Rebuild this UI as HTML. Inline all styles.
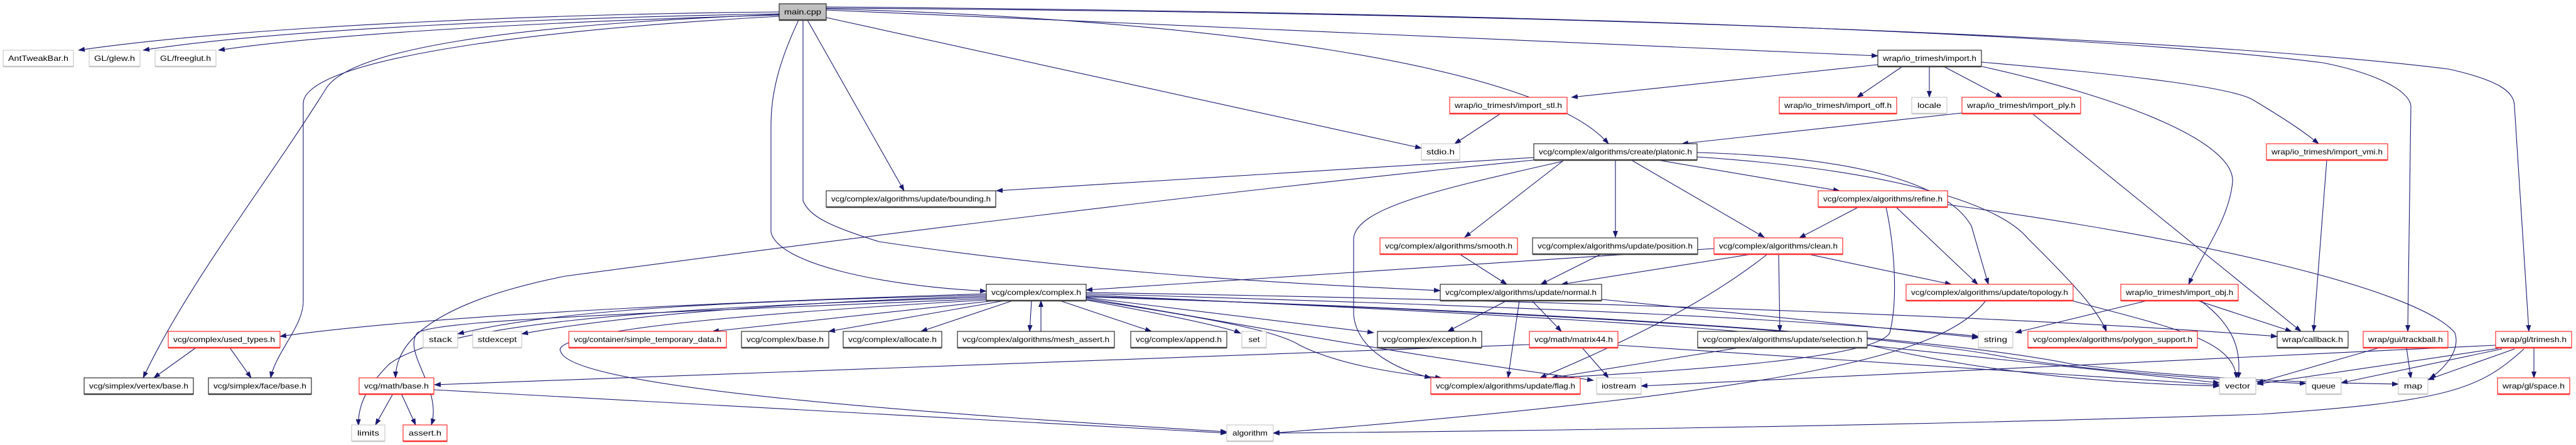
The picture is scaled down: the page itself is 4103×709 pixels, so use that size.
<!DOCTYPE html>
<html><head><meta charset="utf-8"><style>
html,body{margin:0;padding:0;background:#fff;}
svg{display:block;}
text{font-family:"Liberation Sans",Arial,sans-serif;font-size:12px;fill:#000;}
.e{fill:none;stroke:#191970;stroke-width:1.1;marker-end:url(#ah);}
.b{fill:#fff;stroke:#000;stroke-width:1;}
.r{fill:#fff;stroke:#ff0000;stroke-width:1;}
.g{fill:#fff;stroke:#bfbfbf;stroke-width:1;}
.m{fill:#bfbfbf;stroke:#000;stroke-width:1;}
.sb{stroke:#404040;stroke-width:2.5;}
.sr{stroke:#ff3030;stroke-width:2.5;}
.sg{stroke:#c8c8c8;stroke-width:2.5;}
</style></head><body>
<svg width="4103" height="709" viewBox="0 0 4103 709" xmlns="http://www.w3.org/2000/svg">
<defs><marker id="ah" markerWidth="11" markerHeight="8" refX="10" refY="4" orient="auto" markerUnits="userSpaceOnUse"><path d="M0,0 L11,4 L0,8 z" fill="#191970"/></marker></defs>
<rect width="4103" height="709" fill="#fff"/>
<g>
<!-- main.cpp edges -->
<path class="e" d="M1241,19 C900,22 400,40 125,80"/>
<path class="e" d="M1241,22 C900,28 450,45 228,80"/>
<path class="e" d="M1241,24 C950,32 550,50 348,80"/>
<path class="e" d="M1241,23 C800,40 560,80 520,140 C420,300 300,450 228,602"/>
<path class="e" d="M1241,26 C800,50 483,100 483,165 L483,480 C483,520 440,560 431,602"/>
<path class="e" d="M1272,32 C1240,100 1228,150 1228,200 L1228,370 C1240,420 1400,455 1571,464"/>
<path class="e" d="M1279,32 L1279,320 C1290,345 1320,360 1400,385 C1700,430 2000,450 2294,463"/>
<path class="e" d="M1286,32 L1440,304"/>
<path class="e" d="M1316,28 L2264,236"/>
<path class="e" d="M1316,14 C1900,30 2450,100 2562,229"/>
<path class="e" d="M1316,16 L2991,89"/>
<path class="e" d="M1316,11 C2400,20 3300,50 3700,100 C3800,120 3840,150 3840,170 L3835,528"/>
<path class="e" d="M1316,13 C2500,20 3500,60 3900,110 C3990,130 4005,150 4005,170 L4028,528"/>
<!-- import.h -->
<path class="e" d="M2991,103 L2503,155"/>
<path class="e" d="M3030,106 L2958,155"/>
<path class="e" d="M3073,106 L3073,155"/>
<path class="e" d="M3096,106 L3189,155"/>
<path class="e" d="M3156,99 C3400,120 3560,140 3590,160 C3640,190 3670,210 3693,229"/>
<path class="e" d="M3157,106 C3400,160 3560,230 3556,290 C3550,350 3510,400 3486,453"/>
<path class="e" d="M2390,181 L2317,229"/>
<path class="e" d="M3125,180 L2679,229"/>
<path class="e" d="M3237,181 L3665,528"/>
<path class="e" d="M3706,255 L3685,528"/>
<!-- platonic -->
<path class="e" d="M2443,251 L1587,304"/>
<path class="e" d="M2443,255 C1800,320 1200,400 900,440 C700,480 630,540 630,602"/>
<path class="e" d="M2490,256 L2333,378"/>
<path class="e" d="M2573,256 L2573,378"/>
<path class="e" d="M2600,256 L2810,378"/>
<path class="e" d="M2640,255 L2930,304"/>
<path class="e" d="M2703,243 C2950,250 3100,290 3140,360 L3167,453"/>
<path class="e" d="M2703,250 C3000,270 3180,320 3230,380 C3290,440 3340,490 3355,528"/>
<path class="e" d="M2489,257 C2300,300 2160,330 2156,380 L2156,500 C2160,560 2230,590 2279,602"/>
<!-- refine -->
<path class="e" d="M2960,330 L2866,379"/>
<path class="e" d="M3020,330 L3150,453"/>
<path class="e" d="M3004,330 C3015,380 3025,470 3010,530 C2990,570 2700,590 2471,602"/>
<path class="e" d="M3102,326 C3500,380 3850,460 3910,530 C3920,560 3890,590 3870,603"/>
<!-- clean -->
<path class="e" d="M2730,396 L1730,462"/>
<path class="e" d="M2790,405 L2487,453"/>
<path class="e" d="M2880,405 L3108,453"/>
<path class="e" d="M2833,405 L2835,528"/>
<path class="e" d="M2815,405 C2720,480 2600,540 2453,602"/>
<path class="e" d="M2325,405 L2400,453"/>
<path class="e" d="M2550,405 L2454,453"/>
<!-- complex.h -->
<path class="e" d="M1571,468 C1200,480 700,500 446,536"/>
<path class="e" d="M1571,470 C1200,480 900,490 729,532"/>
<path class="e" d="M1571,472 C1300,480 1000,500 831,532"/>
<path class="e" d="M1585,479 L1135,528"/>
<path class="e" d="M1600,479 L1320,528"/>
<path class="e" d="M1613,479 L1467,528"/>
<path class="e" d="M1643,479 L1640,528"/>
<path class="e" d="M1658,528 L1658,479"/>
<path class="e" d="M1688,479 L1834,528"/>
<path class="e" d="M1730,478 C1850,500 1950,520 1976,531"/>
<path class="e" d="M1730,474 L2188,530"/>
<path class="e" d="M1730,477 C1950,510 2040,530 2070,550 C2130,580 2220,595 2296,602"/>
<path class="e" d="M1730,475 C2000,520 2200,560 2538,606"/>
<path class="e" d="M1730,468 C2500,490 2900,510 3151,536"/>
<path class="e" d="M1730,466 C2600,480 3300,510 3627,536"/>
<path class="e" d="M1730,470 C2400,500 2900,530 3000,555 C3200,600 3400,612 3535,615"/>
<path class="e" d="M1730,472 C2500,500 3000,530 3200,570 C3400,600 3600,608 3673,611"/>
<path class="e" d="M1730,473 C2600,500 3100,540 3300,580 C3500,605 3700,610 3820,612"/>
<path class="e" d="M1571,474 C1000,490 700,520 620,580 C580,620 570,650 571,678"/>
<path class="e" d="M1571,476 C1000,500 700,510 665,530 C640,560 705,620 687,677"/>
<path class="e" d="M1571,478 C1000,510 880,540 893,560 C910,620 1500,660 1954,688"/>
<!-- normal -->
<path class="e" d="M2400,479 L2306,528"/>
<path class="e" d="M2420,479 L2402,602"/>
<path class="e" d="M2440,479 L2487,528"/>
<path class="e" d="M2551,477 L3151,538"/>
<!-- matrix44 -->
<path class="e" d="M2436,549 L692,613"/>
<path class="e" d="M2520,554 L2562,602"/>
<path class="e" d="M2577,550 L3535,613"/>
<path class="e" d="M2770,554 L2471,602"/>
<path class="e" d="M2974,550 L3535,610"/>
<!-- topology -->
<path class="e" d="M3163,479 C3100,560 2900,620 2028,690"/>
<path class="e" d="M3300,479 C3450,520 3560,540 3562,603"/>
<!-- import_obj -->
<path class="e" d="M3420,479 L3210,530"/>
<path class="e" d="M3500,479 L3650,528"/>
<path class="e" d="M3505,479 C3560,520 3570,560 3565,603"/>
<!-- trackball / trimesh -->
<path class="e" d="M3790,554 L3595,610"/>
<path class="e" d="M3833,554 L3840,603"/>
<path class="e" d="M3975,550 L2614,615"/>
<path class="e" d="M3980,555 L3595,612"/>
<path class="e" d="M3985,556 L3729,610"/>
<path class="e" d="M4005,556 L3867,605"/>
<path class="e" d="M4020,556 C3950,620 3900,640 3600,660 C3000,680 2300,688 2028,690"/>
<path class="e" d="M4036,554 L4036,602"/>
<!-- used_types / math base -->
<path class="e" d="M312,554 L245,602"/>
<path class="e" d="M366,554 L400,602"/>
<path class="e" d="M625,629 L598,677"/>
<path class="e" d="M640,629 L662,677"/>
<path class="e" d="M691,621 L1954,690"/>
</g>
<g>
<!-- nodes: rect + bottom shadow + text -->
<rect class="m" x="1241" y="6" width="75" height="26"/><line class="sb" x1="1241" y1="32" x2="1316" y2="32"/><text x="1278.5" y="23" text-anchor="middle" textLength="59" lengthAdjust="spacingAndGlyphs">main.cpp</text>

<rect class="g" x="5" y="80" width="112" height="26"/><line class="sg" x1="5" y1="106" x2="117" y2="106"/><text x="61" y="97" text-anchor="middle" textLength="96" lengthAdjust="spacingAndGlyphs">AntTweakBar.h</text>
<rect class="g" x="142" y="80" width="81" height="26"/><line class="sg" x1="142" y1="106" x2="223" y2="106"/><text x="182.5" y="97" text-anchor="middle" textLength="65" lengthAdjust="spacingAndGlyphs">GL/glew.h</text>
<rect class="g" x="247" y="80" width="97" height="26"/><line class="sg" x1="247" y1="106" x2="344" y2="106"/><text x="295.5" y="97" text-anchor="middle" textLength="81" lengthAdjust="spacingAndGlyphs">GL/freeglut.h</text>
<rect class="b" x="2991" y="80" width="165" height="26"/><line class="sb" x1="2991" y1="106" x2="3156" y2="106"/><text x="3073.5" y="97" text-anchor="middle" textLength="149" lengthAdjust="spacingAndGlyphs">wrap/io_trimesh/import.h</text>

<rect class="r" x="2309" y="155" width="187" height="26"/><line class="sr" x1="2309" y1="181" x2="2496" y2="181"/><text x="2402.5" y="172" text-anchor="middle" textLength="171" lengthAdjust="spacingAndGlyphs">wrap/io_trimesh/import_stl.h</text>
<rect class="r" x="2834" y="155" width="187" height="26"/><line class="sr" x1="2834" y1="181" x2="3021" y2="181"/><text x="2927.5" y="172" text-anchor="middle" textLength="171" lengthAdjust="spacingAndGlyphs">wrap/io_trimesh/import_off.h</text>
<rect class="g" x="3045" y="155" width="56" height="26"/><line class="sg" x1="3045" y1="181" x2="3101" y2="181"/><text x="3073" y="172" text-anchor="middle" textLength="38" lengthAdjust="spacingAndGlyphs">locale</text>
<rect class="r" x="3125" y="155" width="189" height="26"/><line class="sr" x1="3125" y1="181" x2="3314" y2="181"/><text x="3219.5" y="172" text-anchor="middle" textLength="173" lengthAdjust="spacingAndGlyphs">wrap/io_trimesh/import_ply.h</text>

<rect class="g" x="2264" y="229" width="61" height="26"/><line class="sg" x1="2264" y1="255" x2="2325" y2="255"/><text x="2294.5" y="246" text-anchor="middle" textLength="45" lengthAdjust="spacingAndGlyphs">stdio.h</text>
<rect class="b" x="2443" y="229" width="260" height="26"/><line class="sb" x1="2443" y1="255" x2="2703" y2="255"/><text x="2573" y="246" text-anchor="middle" textLength="244" lengthAdjust="spacingAndGlyphs">vcg/complex/algorithms/create/platonic.h</text>
<rect class="r" x="3610" y="229" width="193" height="26"/><line class="sr" x1="3610" y1="255" x2="3803" y2="255"/><text x="3706.5" y="246" text-anchor="middle" textLength="177" lengthAdjust="spacingAndGlyphs">wrap/io_trimesh/import_vmi.h</text>

<rect class="b" x="1316" y="304" width="270" height="26"/><line class="sb" x1="1316" y1="330" x2="1586" y2="330"/><text x="1451" y="321" text-anchor="middle" textLength="254" lengthAdjust="spacingAndGlyphs">vcg/complex/algorithms/update/bounding.h</text>
<rect class="r" x="2896" y="304" width="206" height="26"/><line class="sr" x1="2896" y1="330" x2="3102" y2="330"/><text x="2999" y="321" text-anchor="middle" textLength="190" lengthAdjust="spacingAndGlyphs">vcg/complex/algorithms/refine.h</text>

<rect class="r" x="2198" y="379" width="219" height="26"/><line class="sr" x1="2198" y1="405" x2="2417" y2="405"/><text x="2307.5" y="396" text-anchor="middle" textLength="203" lengthAdjust="spacingAndGlyphs">vcg/complex/algorithms/smooth.h</text>
<rect class="b" x="2441" y="379" width="263" height="26"/><line class="sb" x1="2441" y1="405" x2="2704" y2="405"/><text x="2572.5" y="396" text-anchor="middle" textLength="247" lengthAdjust="spacingAndGlyphs">vcg/complex/algorithms/update/position.h</text>
<rect class="r" x="2730" y="379" width="205" height="26"/><line class="sr" x1="2730" y1="405" x2="2935" y2="405"/><text x="2832.5" y="396" text-anchor="middle" textLength="189" lengthAdjust="spacingAndGlyphs">vcg/complex/algorithms/clean.h</text>

<rect class="b" x="1571" y="453" width="159" height="26"/><line class="sb" x1="1571" y1="479" x2="1730" y2="479"/><text x="1650.5" y="470" text-anchor="middle" textLength="143" lengthAdjust="spacingAndGlyphs">vcg/complex/complex.h</text>
<rect class="b" x="2294" y="453" width="257" height="26"/><line class="sb" x1="2294" y1="479" x2="2551" y2="479"/><text x="2422.5" y="470" text-anchor="middle" textLength="241" lengthAdjust="spacingAndGlyphs">vcg/complex/algorithms/update/normal.h</text>
<rect class="r" x="3036" y="453" width="266" height="26"/><line class="sr" x1="3036" y1="479" x2="3302" y2="479"/><text x="3169" y="470" text-anchor="middle" textLength="250" lengthAdjust="spacingAndGlyphs">vcg/complex/algorithms/update/topology.h</text>
<rect class="r" x="3378" y="453" width="187" height="26"/><line class="sr" x1="3378" y1="479" x2="3565" y2="479"/><text x="3471.5" y="470" text-anchor="middle" textLength="171" lengthAdjust="spacingAndGlyphs">wrap/io_trimesh/import_obj.h</text>

<rect class="r" x="268" y="528" width="178" height="26"/><line class="sr" x1="268" y1="554" x2="446" y2="554"/><text x="357" y="545" text-anchor="middle" textLength="162" lengthAdjust="spacingAndGlyphs">vcg/complex/used_types.h</text>
<rect class="g" x="674" y="528" width="55" height="26"/><line class="sg" x1="674" y1="554" x2="729" y2="554"/><text x="701.5" y="545" text-anchor="middle" textLength="37" lengthAdjust="spacingAndGlyphs">stack</text>
<rect class="g" x="753" y="528" width="78" height="26"/><line class="sg" x1="753" y1="554" x2="831" y2="554"/><text x="792" y="545" text-anchor="middle" textLength="62" lengthAdjust="spacingAndGlyphs">stdexcept</text>
<rect class="r" x="906" y="528" width="251" height="26"/><line class="sr" x1="906" y1="554" x2="1157" y2="554"/><text x="1031.5" y="545" text-anchor="middle" textLength="235" lengthAdjust="spacingAndGlyphs">vcg/container/simple_temporary_data.h</text>
<rect class="b" x="1181" y="528" width="139" height="26"/><line class="sb" x1="1181" y1="554" x2="1320" y2="554"/><text x="1250.5" y="545" text-anchor="middle" textLength="123" lengthAdjust="spacingAndGlyphs">vcg/complex/base.h</text>
<rect class="b" x="1343" y="528" width="157" height="26"/><line class="sb" x1="1343" y1="554" x2="1500" y2="554"/><text x="1421.5" y="545" text-anchor="middle" textLength="141" lengthAdjust="spacingAndGlyphs">vcg/complex/allocate.h</text>
<rect class="b" x="1525" y="528" width="250" height="26"/><line class="sb" x1="1525" y1="554" x2="1775" y2="554"/><text x="1650" y="545" text-anchor="middle" textLength="234" lengthAdjust="spacingAndGlyphs">vcg/complex/algorithms/mesh_assert.h</text>
<rect class="b" x="1801" y="528" width="153" height="26"/><line class="sb" x1="1801" y1="554" x2="1954" y2="554"/><text x="1877.5" y="545" text-anchor="middle" textLength="137" lengthAdjust="spacingAndGlyphs">vcg/complex/append.h</text>
<rect class="g" x="1978" y="528" width="39" height="26"/><line class="sg" x1="1978" y1="554" x2="2017" y2="554"/><text x="1997.5" y="545" text-anchor="middle" textLength="18" lengthAdjust="spacingAndGlyphs">set</text>
<rect class="b" x="2194" y="528" width="166" height="26"/><line class="sb" x1="2194" y1="554" x2="2360" y2="554"/><text x="2277" y="545" text-anchor="middle" textLength="150" lengthAdjust="spacingAndGlyphs">vcg/complex/exception.h</text>
<rect class="r" x="2436" y="528" width="141" height="26"/><line class="sr" x1="2436" y1="554" x2="2577" y2="554"/><text x="2506.5" y="545" text-anchor="middle" textLength="125" lengthAdjust="spacingAndGlyphs">vcg/math/matrix44.h</text>
<rect class="b" x="2704" y="528" width="270" height="26"/><line class="sb" x1="2704" y1="554" x2="2974" y2="554"/><text x="2839" y="545" text-anchor="middle" textLength="254" lengthAdjust="spacingAndGlyphs">vcg/complex/algorithms/update/selection.h</text>
<rect class="g" x="3151" y="528" width="55" height="26"/><line class="sg" x1="3151" y1="554" x2="3206" y2="554"/><text x="3178.5" y="545" text-anchor="middle" textLength="37" lengthAdjust="spacingAndGlyphs">string</text>
<rect class="r" x="3230" y="528" width="270" height="26"/><line class="sr" x1="3230" y1="554" x2="3500" y2="554"/><text x="3365" y="545" text-anchor="middle" textLength="254" lengthAdjust="spacingAndGlyphs">vcg/complex/algorithms/polygon_support.h</text>
<rect class="b" x="3627" y="528" width="113" height="26"/><line class="sb" x1="3627" y1="554" x2="3740" y2="554"/><text x="3683.5" y="545" text-anchor="middle" textLength="97" lengthAdjust="spacingAndGlyphs">wrap/callback.h</text>
<rect class="r" x="3764" y="528" width="135" height="26"/><line class="sr" x1="3764" y1="554" x2="3899" y2="554"/><text x="3831.5" y="545" text-anchor="middle" textLength="119" lengthAdjust="spacingAndGlyphs">wrap/gui/trackball.h</text>
<rect class="r" x="3975" y="528" width="121" height="26"/><line class="sr" x1="3975" y1="554" x2="4096" y2="554"/><text x="4035.5" y="545" text-anchor="middle" textLength="105" lengthAdjust="spacingAndGlyphs">wrap/gl/trimesh.h</text>

<rect class="b" x="134" y="602" width="174" height="26"/><line class="sb" x1="134" y1="628" x2="308" y2="628"/><text x="221" y="619" text-anchor="middle" textLength="158" lengthAdjust="spacingAndGlyphs">vcg/simplex/vertex/base.h</text>
<rect class="b" x="332" y="602" width="164" height="26"/><line class="sb" x1="332" y1="628" x2="496" y2="628"/><text x="414" y="619" text-anchor="middle" textLength="148" lengthAdjust="spacingAndGlyphs">vcg/simplex/face/base.h</text>
<rect class="r" x="572" y="602" width="119" height="26"/><line class="sr" x1="572" y1="628" x2="691" y2="628"/><text x="631.5" y="619" text-anchor="middle" textLength="103" lengthAdjust="spacingAndGlyphs">vcg/math/base.h</text>
<rect class="r" x="2279" y="602" width="238" height="26"/><line class="sr" x1="2279" y1="628" x2="2517" y2="628"/><text x="2398" y="619" text-anchor="middle" textLength="222" lengthAdjust="spacingAndGlyphs">vcg/complex/algorithms/update/flag.h</text>
<rect class="g" x="2543" y="602" width="71" height="26"/><line class="sg" x1="2543" y1="628" x2="2614" y2="628"/><text x="2578.5" y="619" text-anchor="middle" textLength="55" lengthAdjust="spacingAndGlyphs">iostream</text>
<rect class="g" x="3535" y="602" width="58" height="26"/><line class="sg" x1="3535" y1="628" x2="3593" y2="628"/><text x="3564" y="619" text-anchor="middle" textLength="40" lengthAdjust="spacingAndGlyphs">vector</text>
<rect class="g" x="3673" y="602" width="56" height="26"/><line class="sg" x1="3673" y1="628" x2="3729" y2="628"/><text x="3701" y="619" text-anchor="middle" textLength="38" lengthAdjust="spacingAndGlyphs">queue</text>
<rect class="g" x="3820" y="602" width="47" height="26"/><line class="sg" x1="3820" y1="628" x2="3867" y2="628"/><text x="3843.5" y="619" text-anchor="middle" textLength="29" lengthAdjust="spacingAndGlyphs">map</text>
<rect class="r" x="3978" y="602" width="115" height="26"/><line class="sr" x1="3978" y1="628" x2="4093" y2="628"/><text x="4035.5" y="619" text-anchor="middle" textLength="99" lengthAdjust="spacingAndGlyphs">wrap/gl/space.h</text>

<rect class="g" x="560" y="677" width="53" height="26"/><line class="sg" x1="560" y1="703" x2="613" y2="703"/><text x="586.5" y="694" text-anchor="middle" textLength="35" lengthAdjust="spacingAndGlyphs">limits</text>
<rect class="r" x="642" y="677" width="70" height="26"/><line class="sr" x1="642" y1="703" x2="712" y2="703"/><text x="677" y="694" text-anchor="middle" textLength="52" lengthAdjust="spacingAndGlyphs">assert.h</text>
<rect class="g" x="1954" y="677" width="74" height="26"/><line class="sg" x1="1954" y1="703" x2="2028" y2="703"/><text x="1991" y="694" text-anchor="middle" textLength="56" lengthAdjust="spacingAndGlyphs">algorithm</text>
</g>
</svg>
</body></html>
